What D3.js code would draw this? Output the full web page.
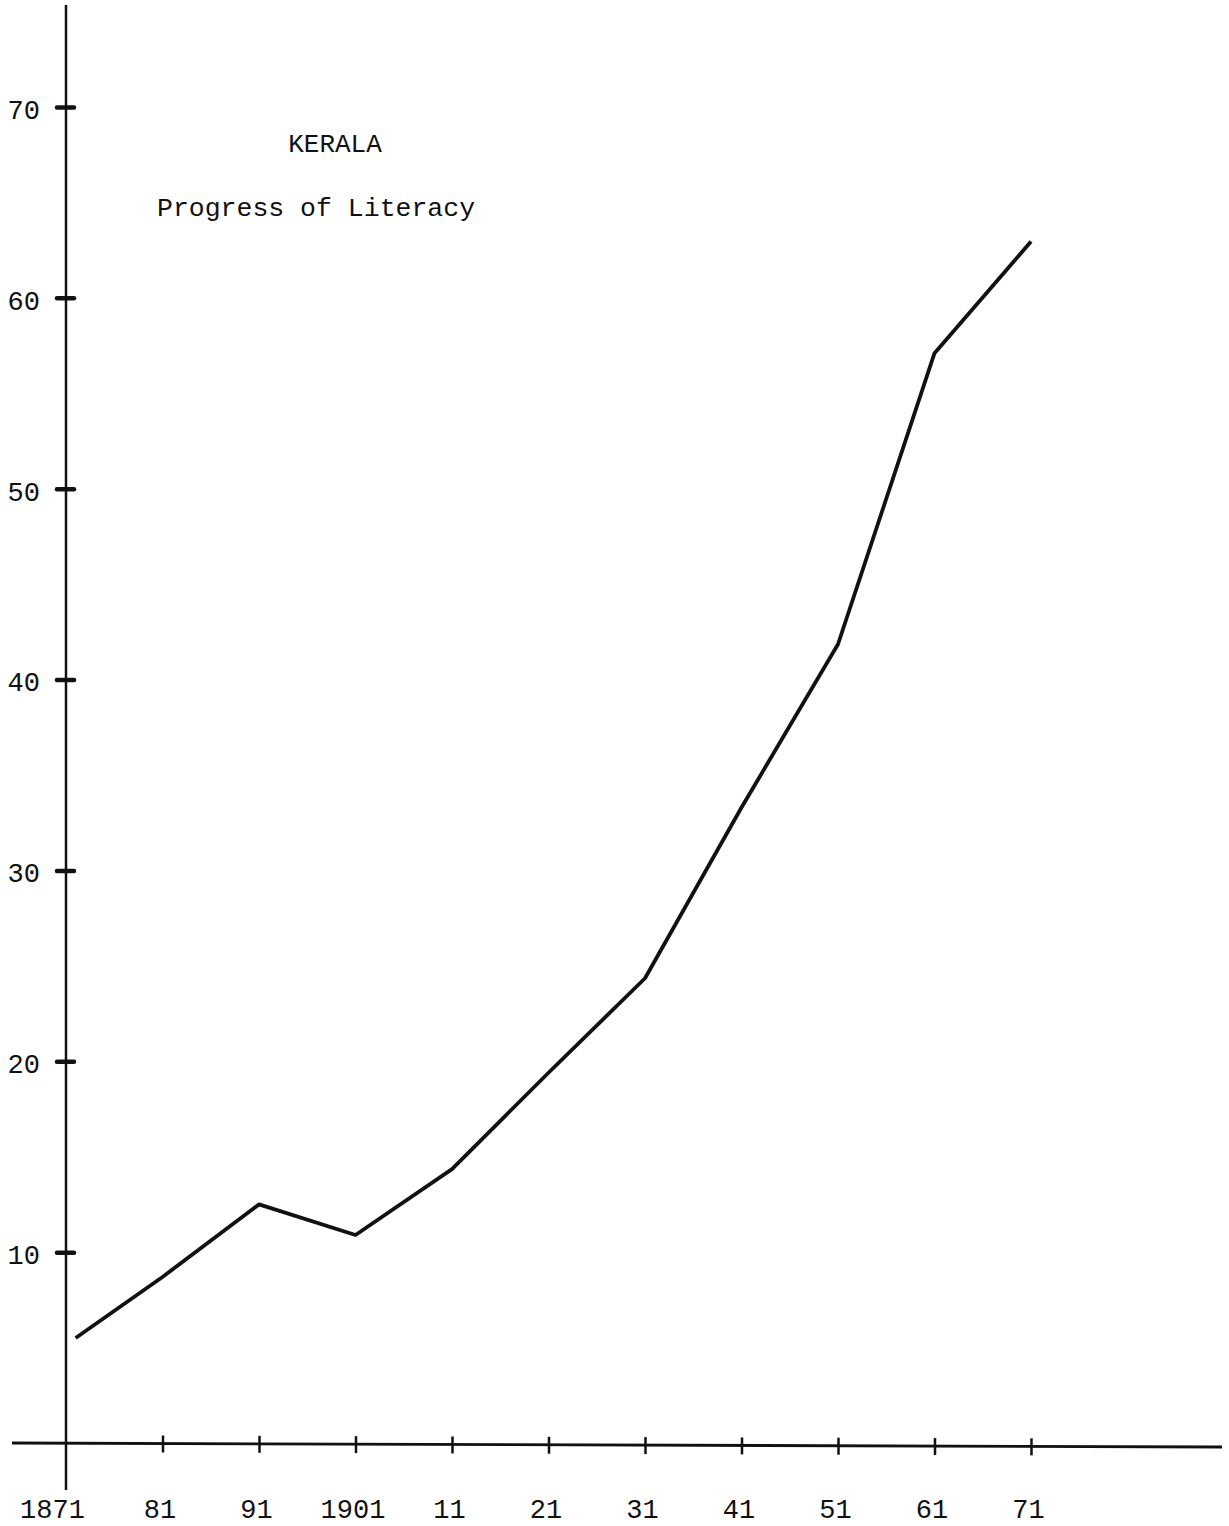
<!DOCTYPE html>
<html>
<head>
<meta charset="utf-8">
<script src="https://cdn.jsdelivr.net/npm/d3@7"></script>
<style>
  body { margin: 0; background: #fff; }
  text { font-family: "Liberation Mono", "DejaVu Sans Mono", monospace; fill: #111; }
</style>
</head>
<body>
<svg id="chart" width="1229" height="1526"></svg>
<script>
// literacy (%); first point sits a little right of the axis
var years = [1872, 1881, 1891, 1901, 1911, 1921, 1931, 1941, 1951, 1961, 1971];
var literacy = [5.5, 8.7, 12.5, 10.9, 14.35, 19.4, 24.35, 33.3, 41.85, 57.1, 62.95];

var xTickYears = [1871, 1881, 1891, 1901, 1911, 1921, 1931, 1941, 1951, 1961, 1971];
var xTickLabels = ['1871', '81', '91', '1901', '11', '21', '31', '41', '51', '61', '71'];
var yTickValues = [10, 20, 30, 40, 50, 60, 70];

var svg = d3.select('#chart');

var x = d3.scaleLinear().domain([1871, 1971]).range([66, 1031]);
var y = d3.scaleLinear().domain([0, 70]).range([1443, 107]);

// axis lines, drawn long like the hand-ruled original
svg.append('line')
    .attr('x1', x(1871)).attr('x2', x(1871))
    .attr('y1', 5).attr('y2', 1490)
    .attr('stroke', '#111').attr('stroke-width', 2.5);
svg.append('line')
    .attr('x1', 12).attr('x2', 1222)
    .attr('y1', y(0)).attr('y2', y(0) + 4)
    .attr('stroke', '#111').attr('stroke-width', 2.8);

// y axis
var yAxis = svg.append('g')
    .attr('transform', 'translate(' + x(1871) + ',0)')
    .call(d3.axisLeft(y).tickValues(yTickValues).tickSize(9).tickPadding(17).tickFormat(d3.format('d')));
yAxis.select('.domain').remove();
yAxis.selectAll('.tick line')
    .attr('x1', 8).attr('x2', -9)
    .attr('stroke', '#111').attr('stroke-width', 4.5).attr('stroke-linecap', 'round');
yAxis.selectAll('.tick text')
    .attr('dy', '0.42em')
    .style('font-size', '27px');

// x axis
var xAxis = svg.append('g')
    .attr('transform', 'translate(0,' + y(0) + ')')
    .call(d3.axisBottom(x).tickValues(xTickYears).tickSize(8).tickPadding(67)
        .tickFormat(function(d, i) { return xTickLabels[i]; }));
xAxis.select('.domain').remove();
xAxis.selectAll('.tick line')
    .attr('y1', -8).attr('y2', 9)
    .attr('stroke', '#111').attr('stroke-width', 2.5)
    .attr('transform', function(d) { return 'translate(0,' + (4 * (x(d) - 12) / 1210) + ')'; });
xAxis.selectAll('.tick')
    .filter(function(d) { return d === 1871; })
    .select('line').remove();
xAxis.selectAll('.tick text')
    .attr('dy', '0')
    .style('font-size', '27px')
    .attr('dx', function(d) { return d === 1871 ? -14 : -3; });

// the literacy curve
var line = d3.line()
    .x(function(d, i) { return x(years[i]); })
    .y(function(d) { return y(d); });

svg.append('path')
    .datum(literacy)
    .attr('d', line)
    .attr('fill', 'none')
    .attr('stroke', '#111')
    .attr('stroke-width', 3.8)
    .attr('stroke-linejoin', 'round');

// titles
svg.append('text')
    .attr('x', 335).attr('y', 152)
    .attr('text-anchor', 'middle')
    .style('font-size', '26px')
    .text('KERALA');
svg.append('text')
    .attr('x', 157).attr('y', 216)
    .style('font-size', '26.5px')
    .text('Progress of Literacy');
</script>
</body>
</html>
